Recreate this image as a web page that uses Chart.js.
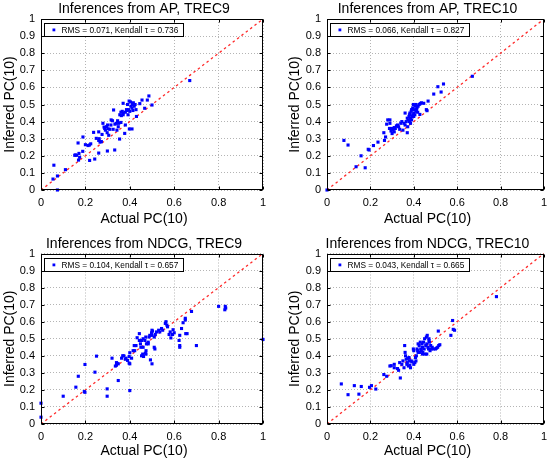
<!DOCTYPE html>
<html><head><meta charset="utf-8">
<script src="https://cdn.jsdelivr.net/npm/chart.js@4"></script>
<style>
html,body{margin:0;padding:0;background:#fff;width:553px;height:461px;overflow:hidden;}
canvas{position:absolute;}
</style></head><body>
<canvas id="c1" width="276" height="230" style="left:0;top:0"></canvas>
<canvas id="c2" width="268" height="230" style="left:285px;top:0"></canvas>
<canvas id="c3" width="276" height="231" style="left:0;top:230px"></canvas>
<canvas id="c4" width="268" height="231" style="left:285px;top:230px"></canvas>
<script>
// ---- tick values / labels ----
const xTickValues = [0, 0.2, 0.4, 0.6, 0.8, 1];
const xTickLabels = ['0', '0.2', '0.4', '0.6', '0.8', '1'];
const yTickValues = [0, 0.1, 0.2, 0.3, 0.4, 0.5, 0.6, 0.7, 0.8, 0.9, 1];
const yTickLabels = ['0', '0.1', '0.2', '0.3', '0.4', '0.5', '0.6', '0.7', '0.8', '0.9', '1'];
const diagonal = [[0, 0], [1, 1]];

// ---- titles / labels ----
const panelTitles = ['Inferences from AP, TREC9', 'Inferences from AP, TREC10', 'Inferences from NDCG, TREC9', 'Inferences from NDCG, TREC10'];
const legendLabels = ['RMS = 0.071, Kendall \u03c4 = 0.736', 'RMS = 0.066, Kendall \u03c4 = 0.827', 'RMS = 0.104, Kendall \u03c4 = 0.657', 'RMS = 0.043, Kendall \u03c4 = 0.665'];
const xAxisLabel = 'Actual PC(10)';
const yAxisLabel = 'Inferred PC(10)';

// ---- data: [actual, inferred] ----
const apTrec9 = [[0.67,0.64],[0.058,0.145],[0.074,0.082],[0.054,0.064],[0.074,0.0],[0.11,0.119],[0.152,0.203],[0.161,0.203],[0.171,0.214],[0.167,0.275],[0.189,0.31],[0.174,0.191],[0.169,0.175],[0.188,0.226],[0.219,0.173],[0.212,0.26],[0.218,0.263],[0.224,0.27],[0.237,0.337],[0.242,0.181],[0.249,0.302],[0.26,0.216],[0.262,0.30],[0.266,0.28],[0.272,0.283],[0.279,0.39],[0.284,0.368],[0.287,0.36],[0.29,0.35],[0.295,0.37],[0.298,0.335],[0.302,0.358],[0.305,0.32],[0.299,0.228],[0.316,0.41],[0.322,0.405],[0.327,0.468],[0.332,0.234],[0.339,0.39],[0.342,0.35],[0.35,0.39],[0.354,0.298],[0.355,0.44],[0.36,0.455],[0.362,0.435],[0.366,0.46],[0.37,0.45],[0.37,0.507],[0.377,0.331],[0.38,0.38],[0.392,0.44],[0.388,0.465],[0.397,0.52],[0.403,0.515],[0.405,0.49],[0.41,0.48],[0.412,0.5],[0.416,0.51],[0.42,0.49],[0.424,0.5],[0.398,0.357],[0.41,0.357],[0.428,0.47],[0.455,0.526],[0.445,0.505],[0.479,0.526],[0.486,0.55],[0.5,0.497],[0.467,0.478],[0.43,0.43],[0.348,0.37],[0.333,0.385],[0.3,0.38],[0.31,0.355],[0.385,0.47],[0.395,0.47],[0.4,0.46],[0.39,0.5],[0.36,0.395],[0.325,0.355],[0.275,0.325],[0.26,0.34],[0.2,0.265],[0.155,0.205],[0.345,0.405],[0.38,0.455],[0.414,0.465],[0.26,0.29],[0.315,0.38],[0.37,0.44]];
const apTrec10 = [[0,0],[0.078,0.29],[0.097,0.263],[0.134,0.136],[0.176,0.13],[0.157,0.2],[0.19,0.238],[0.194,0.234],[0.214,0.26],[0.235,0.28],[0.262,0.335],[0.265,0.29],[0.27,0.31],[0.275,0.385],[0.28,0.41],[0.29,0.41],[0.29,0.39],[0.288,0.36],[0.295,0.345],[0.3,0.36],[0.305,0.35],[0.31,0.365],[0.315,0.36],[0.3,0.33],[0.31,0.34],[0.32,0.375],[0.325,0.38],[0.335,0.355],[0.34,0.39],[0.345,0.4],[0.35,0.35],[0.355,0.39],[0.36,0.45],[0.365,0.4],[0.37,0.335],[0.372,0.37],[0.375,0.41],[0.378,0.43],[0.38,0.44],[0.382,0.45],[0.385,0.42],[0.388,0.46],[0.39,0.47],[0.392,0.43],[0.395,0.48],[0.398,0.5],[0.4,0.45],[0.402,0.47],[0.405,0.44],[0.408,0.49],[0.41,0.5],[0.412,0.47],[0.415,0.48],[0.418,0.455],[0.42,0.49],[0.425,0.5],[0.428,0.442],[0.43,0.505],[0.435,0.51],[0.446,0.507],[0.458,0.47],[0.461,0.464],[0.466,0.52],[0.492,0.561],[0.511,0.604],[0.526,0.573],[0.537,0.62],[0.67,0.665],[0.385,0.39],[0.39,0.41],[0.4,0.43],[0.41,0.46],[0.38,0.4],[0.395,0.44],[0.33,0.37],[0.36,0.38],[0.37,0.42]];
const ndcgTrec9 = [[1.0,0.496],[0.8,0.69],[0.83,0.69],[0.832,0.68],[0.828,0.67],[0.678,0.66],[0.65,0.62],[0.65,0.61],[0.64,0.594],[0.633,0.56],[0.658,0.53],[0.652,0.53],[0.625,0.52],[0.622,0.49],[0.625,0.46],[0.625,0.45],[0.7,0.46],[0.595,0.553],[0.592,0.525],[0.582,0.54],[0.577,0.525],[0.585,0.505],[0.563,0.6],[0.56,0.59],[0.567,0.58],[0.543,0.56],[0.535,0.54],[0.52,0.54],[0.515,0.525],[0.51,0.51],[0.5,0.55],[0.502,0.545],[0.498,0.535],[0.5,0.52],[0.487,0.51],[0.483,0.48],[0.472,0.51],[0.468,0.49],[0.46,0.5],[0.453,0.49],[0.448,0.47],[0.45,0.45],[0.46,0.45],[0.5,0.353],[0.493,0.376],[0.483,0.47],[0.51,0.45],[0.513,0.44],[0.473,0.43],[0.47,0.415],[0.473,0.41],[0.462,0.396],[0.453,0.4],[0.458,0.41],[0.443,0.53],[0.443,0.49],[0.433,0.506],[0.42,0.46],[0.428,0.46],[0.415,0.43],[0.422,0.43],[0.408,0.386],[0.397,0.396],[0.39,0.373],[0.4,0.418],[0.4,0.353],[0.397,0.357],[0.4,0.196],[0.383,0.386],[0.38,0.38],[0.373,0.4],[0.368,0.4],[0.363,0.386],[0.348,0.353],[0.343,0.355],[0.34,0.36],[0.335,0.34],[0.34,0.345],[0.348,0.255],[0.32,0.386],[0.298,0.206],[0.298,0.163],[0.25,0.398],[0.243,0.304],[0.198,0.349],[0.198,0.186],[0.195,0.19],[0.168,0.28],[0.157,0.216],[0.1,0.163],[0,0.122],[0,0.04],[0.53,0.55],[0.548,0.55],[0.57,0.57],[0.6,0.535],[0.49,0.52],[0.475,0.47]];
const ndcgTrec10 = [[0.066,0.235],[0.097,0.172],[0.126,0.225],[0.147,0.175],[0.158,0.22],[0.196,0.215],[0.205,0.225],[0.225,0.205],[0.262,0.29],[0.275,0.28],[0.29,0.34],[0.296,0.342],[0.31,0.33],[0.325,0.325],[0.33,0.315],[0.338,0.27],[0.335,0.36],[0.345,0.35],[0.35,0.37],[0.355,0.33],[0.358,0.46],[0.36,0.42],[0.362,0.4],[0.365,0.38],[0.368,0.35],[0.37,0.36],[0.372,0.385],[0.375,0.34],[0.378,0.39],[0.38,0.37],[0.382,0.345],[0.385,0.33],[0.388,0.37],[0.392,0.365],[0.398,0.44],[0.4,0.43],[0.405,0.36],[0.408,0.39],[0.41,0.37],[0.412,0.4],[0.415,0.44],[0.418,0.43],[0.42,0.47],[0.425,0.46],[0.428,0.42],[0.43,0.48],[0.432,0.44],[0.435,0.43],[0.438,0.47],[0.44,0.45],[0.442,0.42],[0.445,0.48],[0.448,0.44],[0.45,0.5],[0.452,0.41],[0.455,0.46],[0.458,0.51],[0.46,0.47],[0.462,0.52],[0.465,0.45],[0.468,0.44],[0.47,0.49],[0.472,0.48],[0.475,0.43],[0.478,0.46],[0.48,0.44],[0.485,0.45],[0.49,0.44],[0.5,0.44],[0.505,0.445],[0.51,0.45],[0.515,0.46],[0.52,0.465],[0.513,0.545],[0.571,0.52],[0.579,0.607],[0.582,0.555],[0.588,0.55],[0.781,0.747],[0.31,0.35],[0.4,0.35],[0.42,0.42],[0.44,0.41],[0.46,0.41],[0.47,0.5]];

const FONT = "'Liberation Sans', Arial, Helvetica, sans-serif";

const decorPlugin = {
  id: 'decor',
  afterDatasetsDraw(chart) {
    const {ctx, chartArea: a, scales} = chart;
    const L = Math.round(a.left) + 0.5, R = Math.round(a.right) - 0.5;
    const T = Math.round(a.top) + 0.5, B = Math.round(a.bottom) - 0.5;
    ctx.save();
    ctx.strokeStyle = '#000';
    ctx.lineWidth = 1;
    ctx.setLineDash([]);
    ctx.beginPath();
    xTickValues.forEach(v => {
      const x = Math.round(scales.x.getPixelForValue(v)) + 0.5;
      ctx.moveTo(x, B); ctx.lineTo(x, B - 3);
      ctx.moveTo(x, T); ctx.lineTo(x, T + 3);
    });
    yTickValues.forEach(v => {
      const y = Math.round(scales.y.getPixelForValue(v)) + 0.5;
      ctx.moveTo(L, y); ctx.lineTo(L + 3, y);
      ctx.moveTo(R, y); ctx.lineTo(R - 3, y);
    });
    ctx.stroke();
    ctx.strokeRect(L, T, R - L, B - T);
    ctx.restore();
  },
  afterDraw(chart, args, opts) {
    const {ctx, chartArea: a} = chart;
    ctx.save();
    ctx.fillStyle = '#000';
    ctx.font = '14px ' + FONT;
    ctx.textAlign = 'center';
    ctx.textBaseline = 'middle';
    const cx = (a.left + a.right) / 2 - 8;
    ctx.fillText(opts.title, cx, opts.titleY);
    ctx.fillText(xAxisLabel, cx, opts.xLabelY);
    const label = chart.data.datasets[0].label;
    ctx.font = '8.3px ' + FONT;
    const tw = ctx.measureText(label).width;
    const bx = Math.round(a.left + 3) + 0.5, by = Math.round(a.top + 4) + 0.5;
    const bw = Math.round(tw + 22), bh = 13;
    ctx.fillStyle = '#fff';
    ctx.fillRect(bx, by, bw, bh);
    ctx.strokeStyle = '#000';
    ctx.lineWidth = 1;
    ctx.strokeRect(bx, by, bw, bh);
    ctx.fillStyle = '#0000ff';
    ctx.fillRect(bx + 8, by + bh / 2 - 1.5, 2.8, 2.8);
    ctx.fillStyle = '#000';
    ctx.textAlign = 'left';
    ctx.fillText(label, bx + 17, by + bh / 2 + 0.5);
    ctx.restore();
  }
};

function makePanel(id, points, idx, lay) {
  const tickFont = {family: FONT, size: 11};
  return new Chart(document.getElementById(id), {
    type: 'scatter',
    data: {
      datasets: [
        {
          label: legendLabels[idx],
          data: points.map(p => ({x: p[0], y: p[1]})),
          backgroundColor: '#0000ff',
          borderWidth: 0,
          pointStyle: 'rect',
          pointRadius: 2.2,
          clip: false
        },
        {
          type: 'line',
          label: 'diag',
          data: diagonal.map(p => ({x: p[0], y: p[1]})),
          borderColor: '#ff2a2a',
          borderWidth: 1.3,
          borderDash: [2.5, 3],
          pointRadius: 0,
          fill: false
        }
      ]
    },
    options: {
      responsive: false,
      animation: false,
      events: [],
      layout: {padding: {top: lay.top, right: lay.right, left: 0, bottom: 0}},
      plugins: {
        legend: {display: false},
        title: {display: false},
        tooltip: {enabled: false},
        decor: {title: panelTitles[idx], titleY: lay.titleY, xLabelY: lay.xLabelY}
      },
      scales: {
        x: {
          type: 'linear', min: 0, max: 1,
          afterBuildTicks: s => { s.ticks = xTickValues.map(v => ({value: v})); },
          afterFit: s => { s.height = lay.xh; },
          ticks: {font: tickFont, color: '#000', padding: 6, maxRotation: 0, autoSkip: false,
                  callback: (v, i) => xTickLabels[i]},
          grid: {color: '#b4b4b4', lineWidth: 1, drawTicks: false},
          border: {display: false, dash: [1, 2]}
        },
        y: {
          type: 'linear', min: 0, max: 1,
          afterBuildTicks: s => { s.ticks = yTickValues.map(v => ({value: v})); },
          afterFit: s => { s.width = lay.yw; },
          ticks: {font: tickFont, color: '#000', padding: 6, autoSkip: false,
                  callback: (v, i) => yTickLabels[i]},
          grid: {color: '#b4b4b4', lineWidth: 1, drawTicks: false},
          border: {display: false, dash: [1, 2]},
          title: {display: true, text: yAxisLabel, color: '#000',
                  font: {family: FONT, size: 14}, padding: {top: 1.6, bottom: 0}}
        }
      }
    },
    plugins: [decorPlugin]
  });
}

makePanel('c1', apTrec9, 0, {top: 19, right: 13, xh: 40, yw: 41, titleY: 9, xLabelY: 219});
makePanel('c2', apTrec10, 1, {top: 19, right: 5, xh: 40, yw: 42, titleY: 9, xLabelY: 219});
makePanel('c3', ndcgTrec9, 2, {top: 23.5, right: 13, xh: 37, yw: 41, titleY: 14, xLabelY: 221});
makePanel('c4', ndcgTrec10, 3, {top: 23.5, right: 5, xh: 37, yw: 42, titleY: 14, xLabelY: 221});
</script>
</body></html>
